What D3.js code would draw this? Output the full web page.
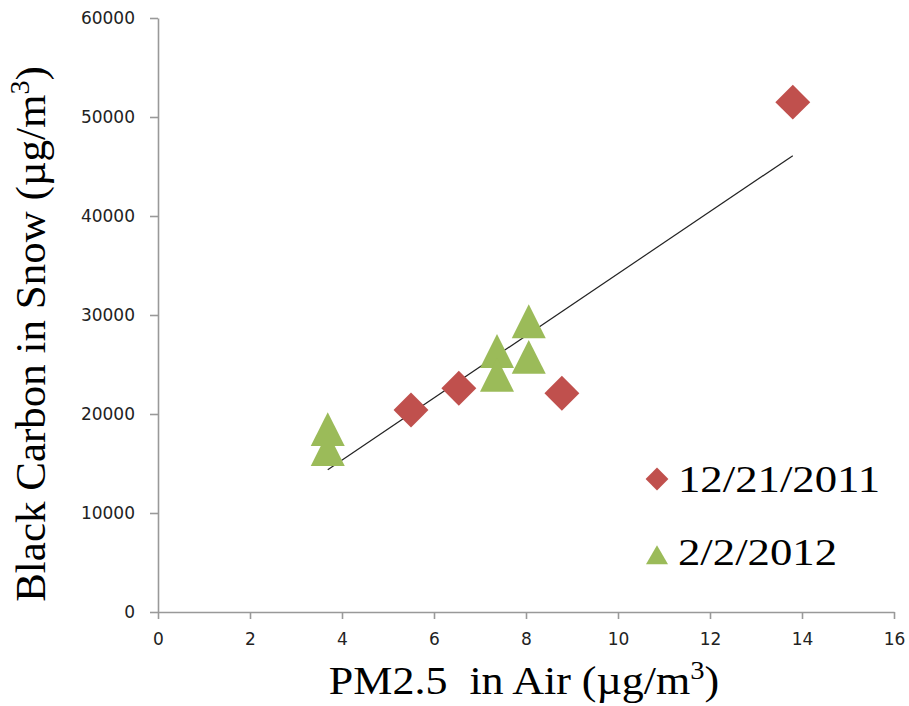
<!DOCTYPE html>
<html>
<head>
<meta charset="utf-8">
<script src="https://cdn.jsdelivr.net/npm/d3@7"></script>
<style>
  body { margin: 0; background: #fff; }
  .tick text { font-family: "DejaVu Sans", Verdana, sans-serif; font-size: 17px; fill: #222; }
  .title { font-family: "Liberation Serif", "DejaVu Serif", serif; fill: #000; }
</style>
</head>
<body>
<svg id="chart" width="909" height="706"></svg>
<script>
// series values
const decX = [5.5, 6.54, 8.78, 13.8];
const decY = [20400, 22600, 22100, 51500];
const febX = [3.69, 3.69, 7.37, 7.37, 8.06, 8.06];
const febY = [18400, 16400, 26300, 23900, 29300, 25700];
const seriesNames = ["12/21/2011", "2/2/2012"];
const xTicks = [0, 2, 4, 6, 8, 10, 12, 14, 16];
const yTicks = [0, 10000, 20000, 30000, 40000, 50000, 60000];

const red = "#C0504D", green = "#9BBB59", axisCol = "#999";

const svg = d3.select("#chart");
const x = d3.scaleLinear().domain([0, 16]).range([158, 894]);
const y = d3.scaleLinear().domain([0, 60000]).range([612, 18]);

let xAxis = svg.append("g")
    .attr("transform", "translate(0,612)")
    .call(d3.axisBottom(x).tickValues(xTicks).tickSize(7).tickPadding(14).tickSizeOuter(0));
let yAxis = svg.append("g")
    .attr("transform", "translate(158,0)")
    .call(d3.axisLeft(y).tickValues(yTicks).tickFormat(d3.format("d")).tickSize(8).tickPadding(15).tickSizeOuter(0));

[xAxis, yAxis].forEach(a => {
  a.selectAll(".domain").attr("stroke", axisCol).attr("stroke-width", 1.6);
  a.selectAll(".tick line").attr("stroke", axisCol).attr("stroke-width", 1.6);
});

// trendline: least squares over both series
let allX = decX.concat(febX), allY = decY.concat(febY);
let mx = d3.mean(allX), my = d3.mean(allY);
let sxy = d3.sum(allX, (v, i) => (v - mx) * (allY[i] - my));
let sxx = d3.sum(allX, v => (v - mx) ** 2);
let slope = sxy / sxx, icpt = my - slope * mx;
let ext = d3.extent(allX);
svg.append("line")
    .attr("x1", x(ext[0])).attr("y1", y(icpt + slope * ext[0]))
    .attr("x2", x(ext[1])).attr("y2", y(icpt + slope * ext[1]))
    .attr("stroke", "#222").attr("stroke-width", 1.2);

const diamond = d3.symbol().type(d3.symbolSquare).size(610);
const tri = d3.symbol().type(d3.symbolTriangle).size(500);

svg.append("g").selectAll("path")
  .data(febX.map((v, i) => [v, febY[i]]))
  .enter().append("path")
    .attr("d", tri)
    .attr("transform", d => `translate(${x(d[0])},${y(d[1]) + 5}) scale(1,1.15)`)
    .attr("fill", green);

svg.append("g").selectAll("path")
  .data(decX.map((v, i) => [v, decY[i]]))
  .enter().append("path")
    .attr("d", diamond)
    .attr("transform", d => `translate(${x(d[0])},${y(d[1])}) rotate(45)`)
    .attr("fill", red);

// legend
const legend = svg.append("g");
legend.append("path")
    .attr("d", d3.symbol().type(d3.symbolSquare).size(260))
    .attr("transform", "translate(657,479) rotate(45)")
    .attr("fill", red);
legend.append("path")
    .attr("d", d3.symbol().type(d3.symbolTriangle).size(210))
    .attr("transform", "translate(657,558)")
    .attr("fill", green);
legend.selectAll("text")
  .data(seriesNames)
  .enter().append("text")
    .attr("class", "title")
    .attr("transform", (d, i) => `translate(678,${492 + i * 73}) scale(1.21,1)`)
    .attr("font-size", 37)
    .text(d => d);

// axis titles
let xt = svg.append("text").attr("class", "title")
    .attr("transform", "translate(524,694) scale(1.1,1)")
    .attr("text-anchor", "middle").attr("font-size", 40);
xt.append("tspan").text("PM2.5\u00a0 in Air (\u00b5g/m");
xt.append("tspan").attr("font-size", 26).attr("dy", -15).text("3");
xt.append("tspan").attr("dy", 15).text(")");

let yt = svg.append("text").attr("class", "title")
    .attr("transform", "translate(45,334) rotate(-90)")
    .attr("text-anchor", "middle").attr("font-size", 43);
yt.append("tspan").text("Black Carbon in Snow (\u00b5g/m");
yt.append("tspan").attr("font-size", 28).attr("dy", -16).text("3");
yt.append("tspan").attr("dy", 16).text(")");
</script>
</body>
</html>
